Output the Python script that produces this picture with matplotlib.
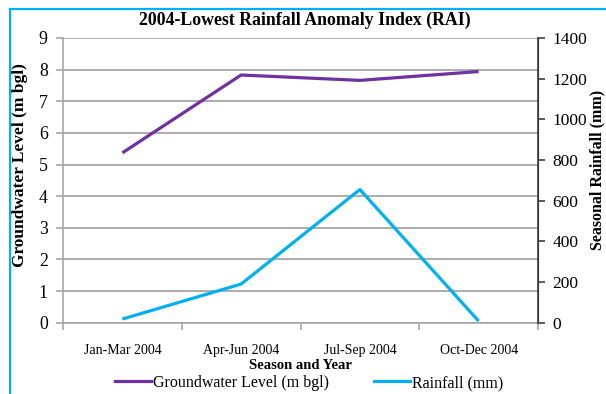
import matplotlib
matplotlib.use("Agg")
import matplotlib.pyplot as plt
from matplotlib.lines import Line2D

plt.rcParams['font.family'] = ['Liberation Serif', 'DejaVu Serif']

seasons = ["Jan-Mar 2004", "Apr-Jun 2004", "Jul-Sep 2004", "Oct-Dec 2004"]
groundwater = [5.37, 7.83, 7.66, 7.94]
rainfall = [18, 190, 655, 8]
left_ticks = list(range(0, 10))
right_ticks = list(range(0, 1401, 200))

PURPLE = "#7030a0"
BLUE = "#00b0f0"
GRID = "#a6a6a6"

fig = plt.figure(figsize=(6.06, 3.94), dpi=100)
ax = fig.add_axes([63 / 606, 1 - 322.7 / 394, (538 - 63) / 606, (322.7 - 38) / 394])
ax2 = ax.twinx()

x = list(range(len(seasons)))
ax.plot(x, groundwater, color=PURPLE, lw=2.3, solid_capstyle='butt', zorder=3)
ax2.plot(x, rainfall, color=BLUE, lw=2.3, solid_capstyle='butt', zorder=3)

ax.set_xlim(-0.5, len(seasons) - 0.5)
ax.set_ylim(0, 9)
ax2.set_ylim(0, 1400)
ax.set_yticks(left_ticks)
ax2.set_yticks(right_ticks)
ax.set_xticks(x)
ax.set_xticklabels(seasons, fontsize=10)
ax.set_xticks([i - 0.5 for i in range(len(seasons) + 1)], minor=True)
ax.tick_params(axis='x', which='major', length=0, pad=15.5)
ax.tick_params(axis='x', which='minor', length=5, color=GRID, width=1.2)
ax.tick_params(axis='y', length=5, color=GRID, width=1.2, labelsize=12.8, pad=6)
ax2.tick_params(axis='y', length=5, color="#404040", width=1.2, labelsize=12.5, pad=5.5)

ax.yaxis.grid(True, color=GRID, lw=1.3)
ax.set_axisbelow(True)
for s in ['top']:
    ax.spines[s].set_visible(False)
    ax2.spines[s].set_visible(False)
ax.spines['left'].set_color(GRID)
ax.spines['left'].set_linewidth(1.2)
ax.spines['bottom'].set_color(GRID)
ax.spines['bottom'].set_linewidth(1.2)
ax2.spines['left'].set_visible(False)
ax2.spines['bottom'].set_visible(False)
ax2.spines['right'].set_color("#404040")
ax2.spines['right'].set_linewidth(1.2)

ax.set_xlabel("Season and Year", fontsize=10.5, fontweight='bold', labelpad=1)
ax.set_ylabel("Groundwater Level (m bgl)", fontsize=12.5, fontweight='bold')
ax.yaxis.set_label_coords(-0.074, 0.554)
ax2.set_ylabel("Seasonal Rainfall (mm)", fontsize=11.5, fontweight='bold')
ax2.yaxis.set_label_coords(1.109, 0.536)

fig.text(0.503, 1 - 20 / 394, "2004-Lowest Rainfall Anomaly Index (RAI)",
         ha='center', va='center', fontsize=12.8, fontweight='bold')

handles = [Line2D([], [], color=PURPLE, lw=2.3),
           Line2D([], [], color=BLUE, lw=2.3)]
fig.legend(handles, ["Groundwater Level (m bgl)", "Rainfall (mm)"],
           loc='center', bbox_to_anchor=(309 / 606, 1 - 383 / 394), ncol=2,
           frameon=False, fontsize=11.5, handlelength=2.3, handletextpad=0.1,
           columnspacing=2.8)

# light blue frame around the figure
fig.add_artist(Line2D([10 / 606, 10 / 606], [0, 1 - 9 / 394], color=BLUE, lw=1.6,
                      transform=fig.transFigure))
fig.add_artist(Line2D([10 / 606, 1], [1 - 9 / 394, 1 - 9 / 394], color=BLUE, lw=1.6,
                      transform=fig.transFigure))

fig.savefig("out.png", dpi=100)
